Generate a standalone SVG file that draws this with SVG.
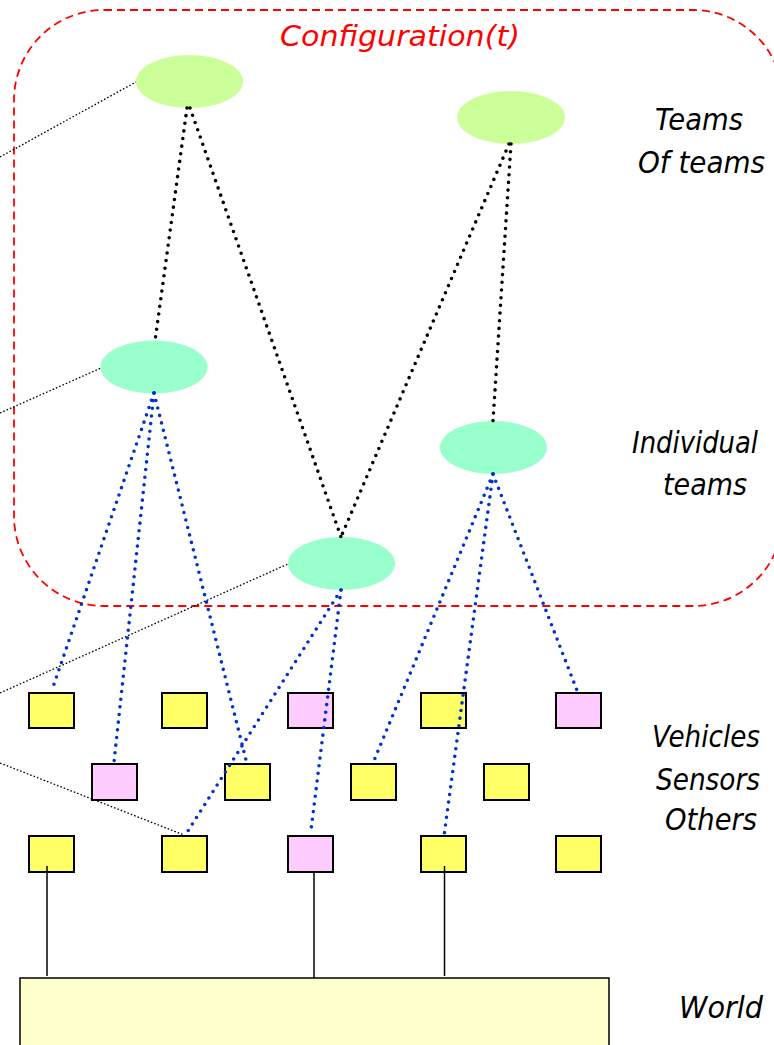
<svg xmlns="http://www.w3.org/2000/svg" width="774" height="1045" viewBox="0 0 774 1045">
  <style>
    .lbl { font-family: "DejaVu Sans", Tahoma, sans-serif; font-style: italic; font-size: 30px; fill: #000; }
    .title { font-family: "DejaVu Sans", Tahoma, sans-serif; font-style: italic; font-size: 29px; fill: #FF0000; }
    .team2 { fill: #CCFF99; }
    .team1 { fill: #99FFCC; }
    .veh { fill: #FFFF66; stroke: #000; stroke-width: 2; }
    .oth { fill: #FFCCFF; stroke: #000; stroke-width: 2; }
    .hier { fill: none; stroke: #000; stroke-width: 3.6; stroke-linecap: round; stroke-dasharray: 0 7.7; }
    .memb { fill: none; stroke: #0033CC; stroke-width: 3.6; stroke-linecap: round; stroke-dasharray: 0 7.7; }
    .ref { fill: none; stroke: #000; stroke-width: 1.3; stroke-dasharray: 1.6 2; }
    .ground { fill: none; stroke: #000; stroke-width: 1.5; }
  </style>

  <!-- configuration boundary -->
  <g id="configuration">
    <rect x="14" y="10" width="769" height="596" rx="90" ry="90" fill="none" stroke="#FF0000" stroke-width="1.8" stroke-dasharray="8 5"/>
    <text class="title" x="280" y="46" textLength="240" lengthAdjust="spacingAndGlyphs">Configuration(t)</text>
  </g>

  <!-- level labels -->
  <g id="labels">
    <text class="lbl" x="655" y="130" textLength="88" lengthAdjust="spacingAndGlyphs">Teams</text>
    <text class="lbl" x="638" y="173" textLength="127" lengthAdjust="spacingAndGlyphs">Of teams</text>
    <text class="lbl" x="632" y="453" textLength="126" lengthAdjust="spacingAndGlyphs">Individual</text>
    <text class="lbl" x="663" y="495" textLength="84" lengthAdjust="spacingAndGlyphs">teams</text>
    <text class="lbl" x="652" y="747" textLength="108" lengthAdjust="spacingAndGlyphs">Vehicles</text>
    <text class="lbl" x="656" y="790" textLength="104" lengthAdjust="spacingAndGlyphs">Sensors</text>
    <text class="lbl" x="665" y="830" textLength="92" lengthAdjust="spacingAndGlyphs">Others</text>
    <text class="lbl" x="679" y="1018" textLength="84" lengthAdjust="spacingAndGlyphs">World</text>
  </g>

  <!-- world -->
  <g id="world">
    <rect x="20" y="978" width="589" height="80" fill="#FFFFCC" stroke="#000" stroke-width="1.5"/>
  </g>

  <!-- teams of teams -->
  <g id="tot-a"><ellipse class="team2" cx="189.5" cy="81.5" rx="53.5" ry="26.5"/></g>
  <g id="tot-b"><ellipse class="team2" cx="511" cy="117.5" rx="54" ry="26.5"/></g>

  <!-- individual teams -->
  <g id="team-a"><ellipse class="team1" cx="154" cy="367" rx="53.5" ry="26.5"/></g>
  <g id="team-b"><ellipse class="team1" cx="493.5" cy="447.5" rx="53.5" ry="26.5"/></g>
  <g id="team-c"><ellipse class="team1" cx="341.5" cy="563.5" rx="53.5" ry="26.5"/></g>

  <!-- vehicles, sensors, others -->
  <g id="unit-r1c1"><rect class="veh" x="29" y="693" width="45" height="35"/></g>
  <g id="unit-r1c2"><rect class="veh" x="162" y="693" width="45" height="35"/></g>
  <g id="unit-r1c3"><rect class="oth" x="288" y="693" width="45" height="35"/></g>
  <g id="unit-r1c4"><rect class="veh" x="421" y="693" width="45" height="35"/></g>
  <g id="unit-r1c5"><rect class="oth" x="556" y="693" width="45" height="35"/></g>

  <g id="unit-r2c1"><rect class="oth" x="92" y="764" width="45" height="36"/></g>
  <g id="unit-r2c2"><rect class="veh" x="225" y="764" width="45" height="36"/></g>
  <g id="unit-r2c3"><rect class="veh" x="351" y="764" width="45" height="36"/></g>
  <g id="unit-r2c4"><rect class="veh" x="484" y="764" width="45" height="36"/></g>

  <g id="unit-r3c1"><rect class="veh" x="29" y="836" width="45" height="36"/></g>
  <g id="unit-r3c2"><rect class="veh" x="162" y="836" width="45" height="36"/></g>
  <g id="unit-r3c3"><rect class="oth" x="288" y="836" width="45" height="36"/></g>
  <g id="unit-r3c4"><rect class="veh" x="421" y="836" width="45" height="36"/></g>
  <g id="unit-r3c5"><rect class="veh" x="556" y="836" width="45" height="36"/></g>

  <!-- connectors -->
  <g id="connectors">
    <!-- team hierarchy -->
    <line class="hier" x1="187" y1="108" x2="155" y2="341"/>
    <line class="hier" x1="190" y1="108" x2="341" y2="537"/>
    <line class="hier" x1="509" y1="144" x2="341" y2="537"/>
    <line class="hier" x1="511" y1="144" x2="493" y2="421"/>

    <!-- team membership -->
    <line class="memb" x1="154" y1="393" x2="52" y2="690"/>
    <line class="memb" x1="154" y1="393" x2="114" y2="762"/>
    <line class="memb" x1="154" y1="393" x2="247" y2="764"/>
    <line class="memb" x1="341" y1="590" x2="186" y2="834"/>
    <line class="memb" x1="341" y1="590" x2="311" y2="830"/>
    <line class="memb" x1="493" y1="474" x2="373" y2="763"/>
    <line class="memb" x1="493" y1="474" x2="444" y2="836"/>
    <line class="memb" x1="493" y1="474" x2="578" y2="693"/>

    <!-- references from the left -->
    <line class="ref" x1="0" y1="157" x2="136" y2="82"/>
    <line class="ref" x1="0" y1="413" x2="101" y2="368"/>
    <line class="ref" x1="0" y1="693" x2="288" y2="564"/>
    <line class="ref" x1="0" y1="763" x2="184" y2="835"/>

    <!-- ties to the world -->
    <line class="ground" x1="47" y1="866" x2="47" y2="976"/>
    <line class="ground" x1="314" y1="872" x2="314" y2="978"/>
    <line class="ground" x1="444.5" y1="866" x2="444.5" y2="976"/>
  </g>
</svg>
